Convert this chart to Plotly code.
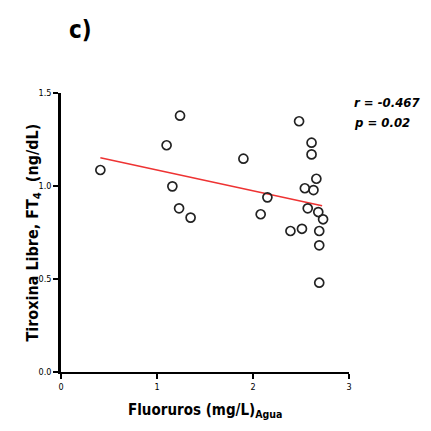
import plotly.graph_objects as go

fluoruros = [0.41, 1.24, 1.10, 1.16, 1.23, 1.35, 1.90, 2.15, 2.08, 2.48, 2.61, 2.61,
             2.66, 2.54, 2.63, 2.57, 2.68, 2.73, 2.39, 2.51, 2.69, 2.69, 2.69]
ft4 = [1.086, 1.378, 1.219, 0.998, 0.880, 0.830, 1.147, 0.939, 0.848, 1.348, 1.233, 1.170,
       1.039, 0.988, 0.978, 0.880, 0.860, 0.821, 0.758, 0.770, 0.758, 0.681, 0.480]
fit_x = [0.41, 2.72]
fit_y = [1.152, 0.894]
x_ticks = [0, 1, 2, 3]
x_tick_labels = ["0", "1", "2", "3"]
y_ticks = [0, 0.5, 1.0, 1.5]
y_tick_labels = ["0.0", "0.5", "1.0", "1.5"]

FONT = "Liberation Sans Narrow, DejaVu Sans Condensed, Arial Narrow, sans-serif"

fig = go.Figure()
fig.add_trace(go.Scatter(x=fit_x, y=fit_y, mode="lines",
                         line=dict(color="#ee3333", width=1.5), showlegend=False))
fig.add_trace(go.Scatter(x=fluoruros, y=ft4, mode="markers",
                         marker=dict(symbol="circle-open", size=9, color="#222222",
                                     line=dict(width=1.7, color="#222222")),
                         showlegend=False))

fig.update_layout(
    width=431, height=431,
    margin=dict(l=61, r=82, t=93, b=59),
    plot_bgcolor="white", paper_bgcolor="white",
    font=dict(family=FONT, color="black"),
    xaxis=dict(range=[0, 3], tickvals=x_ticks, ticktext=x_tick_labels,
               showgrid=False, zeroline=False, showline=True, linecolor="black",
               linewidth=1.5, ticks="outside", ticklen=5, tickwidth=1.5, tickcolor="black",
               tickfont=dict(size=9, family=FONT)),
    yaxis=dict(range=[0, 1.5], tickvals=y_ticks, ticktext=y_tick_labels,
               showgrid=False, zeroline=False, showline=True, linecolor="black",
               linewidth=2.5, ticks="outside", ticklen=5, tickwidth=1.5, tickcolor="black",
               tickfont=dict(size=9, family=FONT)),
    annotations=[
        dict(text="<b>c)</b>", xref="paper", yref="paper", x=(80 - 61) / 288, y=1 + (93 - 30) / 279,
             showarrow=False, font=dict(size=24, family=FONT), xanchor="center", yanchor="middle"),
        dict(text="<b>Tiroxina Libre, FT<sub>4</sub>  (ng/dL)</b>", xref="paper", yref="paper",
             x=(33 - 61) / 288, y=0.5, textangle=-90, showarrow=False,
             font=dict(size=16, family=FONT), xanchor="center", yanchor="middle"),
        dict(text="<b>Fluoruros (mg/L)<sub>Agua</sub></b>", xref="paper", yref="paper",
             x=0.5, y=-(410 - 372) / 279, showarrow=False,
             font=dict(size=15, family=FONT), xanchor="center", yanchor="middle"),
        dict(text="<b><i>r = -0.467</i></b>", xref="paper", yref="paper",
             x=(352 - 61) / 288, y=1 - (102 - 93) / 279, showarrow=False,
             font=dict(size=13, family=FONT), xanchor="left", yanchor="middle"),
        dict(text="<b><i>p = 0.02</i></b>", xref="paper", yref="paper",
             x=(352 - 61) / 288, y=1 - (122 - 93) / 279, showarrow=False,
             font=dict(size=13, family=FONT), xanchor="left", yanchor="middle"),
    ],
)

fig.write_html("out.html")
